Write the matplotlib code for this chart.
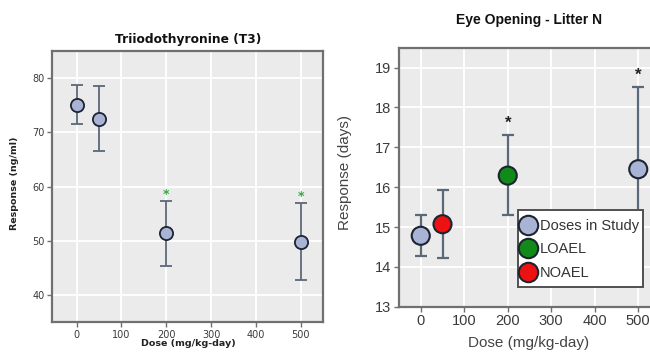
import matplotlib
matplotlib.use("Agg")
import matplotlib.pyplot as plt
from matplotlib.lines import Line2D
from matplotlib.patches import Rectangle

# Triiodothyronine (T3)
t3_dose = [0, 50, 200, 500]
t3_mean = [75.1, 72.4, 51.4, 49.7]
t3_low = [71.6, 66.5, 45.3, 42.8]
t3_high = [78.8, 78.5, 57.4, 57.0]
t3_sig_dose = [200, 500]
t3_sig_y = [58.6, 58.2]
t3_yticks = [40, 50, 60, 70, 80]
t3_xticks = [0, 100, 200, 300, 400, 500]

# Eye opening - litter N
eye_dose = [0, 50, 200, 500]
eye_mean = [14.78, 15.07, 16.29, 16.45]
eye_low = [14.27, 14.23, 15.30, 14.38]
eye_high = [15.29, 15.94, 17.31, 18.52]
eye_role = ["Doses in Study", "NOAEL", "LOAEL", "Doses in Study"]
eye_sig_dose = [200, 500]
eye_sig_y = [17.6, 18.82]
eye_yticks = [13, 14, 15, 16, 17, 18, 19]
eye_xticks = [0, 100, 200, 300, 400, 500]

role_colors = {"Doses in Study": "#a9b3d6", "LOAEL": "#118a1a", "NOAEL": "#ee1111"}

BG = "#ebebeb"
FRAME = "#707070"
ERR = "#5a6878"
EDGE = "#1c2430"

fig = plt.figure(figsize=(6.5, 3.52), dpi=100)
W, H = 650.0, 352.0


def style_axes(ax, tick_size, family, weight):
    ax.set_facecolor(BG)
    ax.grid(True, color="white", linewidth=1.3)
    ax.set_axisbelow(True)
    for s in ax.spines.values():
        s.set_color(FRAME)
        s.set_linewidth(1.6)
    ax.tick_params(direction="out", length=3.5, width=1.0, color=FRAME,
                   labelsize=tick_size, labelcolor="#3a3a3a", pad=2)
    for lab in ax.get_xticklabels() + ax.get_yticklabels():
        lab.set_family(family)
        lab.set_fontweight(weight)


# Left panel
ax1 = fig.add_axes([52 / W, (H - 322) / H, 271 / W, 271 / H])
ax1.set_xlim(-55, 550)
ax1.set_ylim(35, 85)
ax1.set_xticks(t3_xticks)
ax1.set_yticks(t3_yticks)
style_axes(ax1, 7, "DejaVu Sans", "normal")
yerr1 = [[m - lo for m, lo in zip(t3_mean, t3_low)],
         [hi - m for m, hi in zip(t3_mean, t3_high)]]
ax1.errorbar(t3_dose, t3_mean, yerr=yerr1, fmt="none", ecolor=ERR,
             elinewidth=1.3, capsize=4.3, capthick=1.3, zorder=3)
ax1.scatter(t3_dose, t3_mean, s=9.5 ** 2, color=role_colors["Doses in Study"],
            edgecolors=EDGE, linewidths=1.3, zorder=4)
for x, y in zip(t3_sig_dose, t3_sig_y):
    ax1.text(x, y, "*", color="#2fa83a", fontsize=9, fontweight="bold",
             ha="center", va="center")
fig.text(188 / W, 1 - 40 / H, "Triiodothyronine (T3)", ha="center", va="center",
         fontsize=8.8, fontweight="bold", family="DejaVu Sans", color="#111111")
fig.text(188 / W, 1 - 343 / H, "Dose (mg/kg-day)", ha="center", va="center",
         fontsize=6.8, fontweight="bold", family="DejaVu Sans", color="#222222")
fig.text(15 / W, 1 - 183 / H, "Response (ng/ml)", ha="center", va="center",
         rotation=90, fontsize=6.8, fontweight="bold", family="DejaVu Sans",
         color="#222222")

# Right panel
ax2 = fig.add_axes([399 / W, (H - 306.7) / H, 261 / W, 259 / H])
ax2.set_xlim(-50, 550)
ax2.set_ylim(13, 19.5)
ax2.set_xticks(eye_xticks)
ax2.set_yticks(eye_yticks)
style_axes(ax2, 10.5, "Liberation Sans", "normal")
yerr2 = [[m - lo for m, lo in zip(eye_mean, eye_low)],
         [hi - m for m, hi in zip(eye_mean, eye_high)]]
ax2.errorbar(eye_dose, eye_mean, yerr=yerr2, fmt="none", ecolor=ERR,
             elinewidth=1.6, capsize=4.3, capthick=1.6, zorder=3)
ax2.scatter(eye_dose, eye_mean, s=13 ** 2,
            color=[role_colors[r] for r in eye_role],
            edgecolors=EDGE, linewidths=1.5, zorder=4)
for x, y in zip(eye_sig_dose, eye_sig_y):
    ax2.text(x, y, "*", color="#222222", fontsize=12, fontweight="bold",
             ha="center", va="center", family="Liberation Sans")

# Legend box drawn as its own patch so the padding can differ per side
box = Rectangle((0.455, 0.076), 0.48, 0.297, transform=ax2.transAxes,
                facecolor="white", edgecolor="#505050", linewidth=1.4, zorder=6)
ax2.add_patch(box)
handles = [Line2D([], [], linestyle="none", marker="o", markersize=14,
                  markerfacecolor=role_colors[k], markeredgecolor=EDGE,
                  markeredgewidth=1.5, label=k)
           for k in ["Doses in Study", "LOAEL", "NOAEL"]]
leg = ax2.legend(handles=handles, loc="center left", bbox_to_anchor=(0.455, 0.222),
                 frameon=False, prop={"family": "Liberation Sans", "size": 10.5},
                 handlelength=1.25, handletextpad=0.15, borderpad=0.1,
                 labelspacing=0.65, borderaxespad=0)
leg.set_zorder(7)
for t in leg.get_texts():
    t.set_color("#333333")

fig.text(529 / W, 1 - 20 / H, "Eye Opening - Litter N", ha="center", va="center",
         fontsize=10, fontweight="bold", family="Liberation Sans", color="#111111")
fig.text(529 / W, 1 - 343 / H, "Dose (mg/kg-day)", ha="center", va="center",
         fontsize=11, family="Liberation Sans", color="#444444")
fig.text(345 / W, 1 - 173 / H, "Response (days)", ha="center", va="center",
         rotation=90, fontsize=11, family="Liberation Sans", color="#444444")

fig.savefig("out.png", dpi=100, facecolor="white")
